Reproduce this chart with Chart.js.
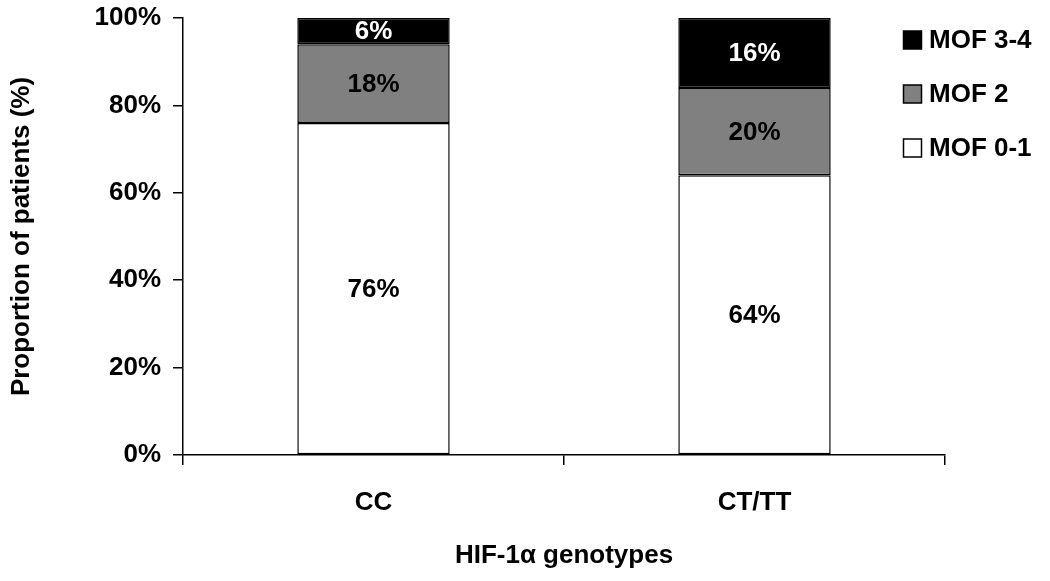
<!DOCTYPE html>
<html>
<head>
<meta charset="utf-8">
<script src="https://cdn.jsdelivr.net/npm/chart.js@4"></script>
<style>
  html, body { margin: 0; padding: 0; background: #fff; }
  #wrap { width: 1050px; height: 581px; }
</style>
</head>
<body>
<div id="wrap"><canvas id="chartMof"></canvas></div>
<script>
const genotypes = ['CC', 'CT/TT'];
const mof01 = [76, 64];
const mof2 = [18, 20];
const mof34 = [6, 16];
const yTicks = [0, 20, 40, 60, 80, 100];

const FONT = 'Liberation Sans, Arial, sans-serif';

// percent labels in the middle of every segment
const segLabels = {
    id: 'segLabels',
    afterDatasetsDraw(chart) {
        const ctx = chart.ctx;
        ctx.save();
        ctx.font = 'bold 26px ' + FONT;
        ctx.textAlign = 'center';
        ctx.textBaseline = 'middle';
        chart.data.datasets.forEach((ds, i) => {
            chart.getDatasetMeta(i).data.forEach((bar, j) => {
                const mid = (bar.y + bar.base) / 2;
                ctx.fillStyle = ds.labelColor;
                ctx.fillText(ds.data[j] + '%', bar.x, mid + 1);
            });
        });
        ctx.restore();
    }
};

// legend at the top right, top item = top segment
const sideLegend = {
    id: 'sideLegend',
    afterDraw(chart) {
        const ctx = chart.ctx;
        const items = chart.data.datasets.slice().reverse();
        ctx.save();
        ctx.font = 'bold 26px ' + FONT;
        ctx.textBaseline = 'middle';
        ctx.textAlign = 'left';
        items.forEach((ds, k) => {
            const y = 40 + k * 54;
            ctx.fillStyle = ds.backgroundColor;
            ctx.fillRect(903.5, y - 9, 18, 18);
            ctx.strokeStyle = '#000';
            ctx.lineWidth = 1.5;
            ctx.strokeRect(903.5, y - 9, 18, 18);
            ctx.fillStyle = '#000';
            ctx.fillText(ds.label, 929, y + 1);
        });
        ctx.restore();
    }
};

const ctx1 = document.getElementById('chartMof').getContext('2d');
const chartMof = new Chart(ctx1, {
    type: 'bar',
    data: {
        labels: genotypes,
        datasets: [{
            label: 'MOF 0-1',
            data: mof01,
            backgroundColor: '#ffffff',
            labelColor: '#000000',
            borderColor: '#000000',
            borderWidth: 1.5,
            borderSkipped: false
        }, {
            label: 'MOF 2',
            data: mof2,
            backgroundColor: '#808080',
            labelColor: '#000000',
            borderColor: '#000000',
            borderWidth: 1.5,
            borderSkipped: false
        }, {
            label: 'MOF 3-4',
            data: mof34,
            backgroundColor: '#000000',
            labelColor: '#ffffff',
            borderColor: '#000000',
            borderWidth: 1.5,
            borderSkipped: false
        }]
    },
    options: {
        responsive: true,
        maintainAspectRatio: false,
        animation: false,
        layout: {
            padding: { top: 18, right: 105, left: 6, bottom: 0 }
        },
        datasets: {
            bar: { barPercentage: 0.4, categoryPercentage: 1 }
        },
        plugins: {
            legend: { display: false },
            tooltip: { enabled: false }
        },
        scales: {
            x: {
                stacked: true,
                grid: {
                    offset: true,
                    drawOnChartArea: false,
                    tickLength: 10,
                    color: '#000',
                    lineWidth: 1.5
                },
                border: { color: '#000', width: 1.5 },
                ticks: {
                    color: '#000',
                    padding: 22,
                    font: { family: FONT, size: 26, weight: 'bold' }
                },
                title: {
                    display: true,
                    text: 'HIF-1α genotypes',
                    color: '#000',
                    padding: { top: 18, bottom: 10 },
                    font: { family: FONT, size: 26, weight: 'bold' }
                },
                afterFit(scale) {
                    scale.height = 126;
                    scale.paddingLeft = 0;
                    scale.paddingRight = 0;
                }
            },
            y: {
                stacked: true,
                min: 0,
                max: 100,
                afterBuildTicks(scale) {
                    scale.ticks = yTicks.map(v => ({ value: v }));
                },
                grid: {
                    drawOnChartArea: false,
                    tickLength: 10,
                    color: '#000',
                    lineWidth: 1.5
                },
                border: { color: '#000', width: 1.5 },
                ticks: {
                    color: '#000',
                    padding: 12,
                    font: { family: FONT, size: 26, weight: 'bold' },
                    callback: v => v + '%'
                },
                title: {
                    display: true,
                    text: 'Proportion of patients (%)',
                    color: '#000',
                    padding: { top: 0, bottom: 4 },
                    font: { family: FONT, size: 26, weight: 'bold' }
                },
                afterFit(scale) {
                    scale.width = 177;
                    scale.paddingTop = 0;
                    scale.paddingBottom = 0;
                }
            }
        }
    },
    plugins: [segLabels, sideLegend]
});
</script>
</body>
</html>
